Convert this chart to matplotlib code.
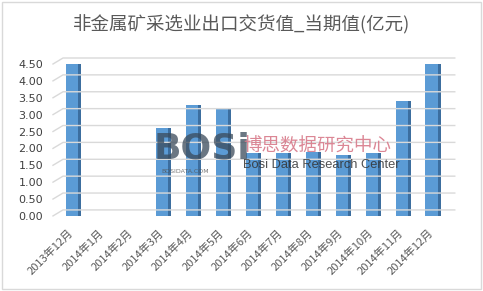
import matplotlib
matplotlib.use("Agg")
import matplotlib.pyplot as plt
import matplotlib.transforms as mtransforms
from matplotlib.patches import Rectangle
from matplotlib.lines import Line2D

plt.rcParams['font.family'] = ['Noto Sans CJK SC', 'DejaVu Sans']

title = "非金属矿采选业出口交货值_当期值(亿元)"
categories = ["2013年12月", "2014年1月", "2014年2月", "2014年3月", "2014年4月",
              "2014年5月", "2014年6月", "2014年7月", "2014年8月", "2014年9月",
              "2014年10月", "2014年11月", "2014年12月"]
values = [4.5, 0, 0, 2.6, 3.3, 3.2, 1.85, 1.85, 1.9, 1.8, 1.85, 3.4, 4.5]
yticks = [0.0, 0.5, 1.0, 1.5, 2.0, 2.5, 3.0, 3.5, 4.0, 4.5]

DPI = 100
fig = plt.figure(figsize=(4.83, 2.91), dpi=DPI)
fig.patch.set_facecolor('white')
fig.patches.append(Rectangle((0.005, 0.007), 0.99, 0.986, transform=fig.transFigure,
                             fill=False, edgecolor='#d9d9d9', linewidth=1))

ax = fig.add_axes([0.118, 0.258, 0.807, 0.536])
x = list(range(len(categories)))

# front faces
front_w = 0.42
side_w = 0.1
ax.bar(x, values, width=front_w, color='#5b9bd5', zorder=3, align='center')
# side faces (depth)
side_x = [i + front_w / 2 + side_w / 2 for i in x]
ax.bar(side_x, values, width=side_w, color='#3c6e9f', zorder=3)

ax.set_xlim(-0.5, len(categories) - 0.5)
ax.set_ylim(0, 4.62)
ax.set_yticks(yticks)
ax.set_yticklabels([f"{v:.2f}" for v in yticks], fontsize=8, color='#404040',
                   family=['DejaVu Sans'])
ax.tick_params(axis='y', length=0, pad=10)
ax.tick_params(axis='x', length=0, pad=2)
ax.set_xticks(x)
ax.set_xticklabels(categories, rotation=45, ha='right', rotation_mode='anchor',
                   fontsize=8, color='#595959')
offset = mtransforms.ScaledTranslation(-4 / DPI, -9 / DPI, fig.dpi_scale_trans)
for lab in ax.get_xticklabels():
    lab.set_transform(lab.get_transform() + offset)
for s in ax.spines.values():
    s.set_visible(False)

# 3D-like gridlines on the back wall with slanted side-wall segments
blend = mtransforms.blended_transform_factory(ax.transAxes, ax.transData)
for v in yticks:
    front = blend + mtransforms.ScaledTranslation(-4 / DPI, 0, fig.dpi_scale_trans)
    back_l = blend + mtransforms.ScaledTranslation(6 / DPI, 6 / DPI, fig.dpi_scale_trans)
    back_r = blend + mtransforms.ScaledTranslation(8 / DPI, 6 / DPI, fig.dpi_scale_trans)
    # slanted part: draw as two-point line using display coords
    p0 = front.transform((0, v))
    p1 = back_l.transform((0, v))
    p2 = back_r.transform((1, v))
    inv = fig.transFigure.inverted()
    (a0, b0), (a1, b1), (a2, b2) = inv.transform([p0, p1, p2])
    fig.add_artist(Line2D([a0, a1, a2], [b0, b1, b2], transform=fig.transFigure,
                          color='#d9d9d9', linewidth=1, zorder=0.5))

fig.text(0.5, 0.915, title, ha='center', va='center', fontsize=13.3, color='#595959')

# watermark
fig.text(0.318, 0.49, "BOSi", fontsize=26, fontweight='bold', color='#3a4a5a',
         alpha=0.75, ha='left', va='center', family=['DejaVu Sans'], zorder=5)
fig.text(0.335, 0.41, "BOSIDATA.COM", fontsize=4.5, color='#555555', alpha=0.8,
         ha='left', va='center', family=['DejaVu Sans'], zorder=5)
fig.text(0.503, 0.495, "博思数据研究中心", fontsize=13.3, color='#d87a8a', alpha=0.9,
         ha='left', va='center', zorder=5)
fig.text(0.503, 0.432, "Bosi Data Research Center", fontsize=9.3, color='#333333',
         alpha=0.85, ha='left', va='center', family=['Liberation Sans', 'DejaVu Sans'],
         zorder=5)

fig.savefig("out.png", dpi=DPI)
